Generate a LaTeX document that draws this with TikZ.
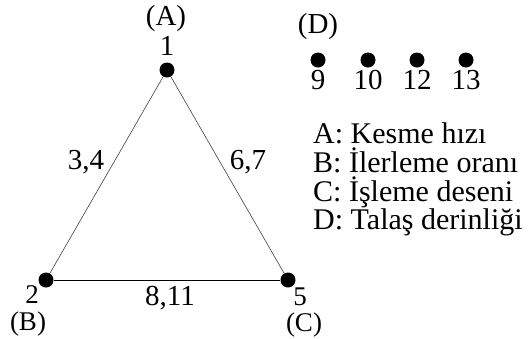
\documentclass[tikz,border=0pt]{standalone}
\usepackage{fontspec}
\setmainfont{Liberation Serif}
\usetikzlibrary{positioning}

\begin{document}
\begin{tikzpicture}[x=1pt,y=-1pt,
  dot/.style={circle,fill=black,inner sep=0pt,minimum size=15pt},
  lbl/.style={inner sep=0pt,anchor=base},
  low/.style={lbl,font=\fontsize{27}{28}\selectfont},
  key/.style={inner sep=0pt,anchor=base west,font=\fontsize{30}{30}\selectfont},
  edge/.style={draw=black!75,line width=0.6pt},
  font=\fontsize{29}{30}\selectfont]
  \useasboundingbox (0,0) rectangle (528,338);
  % Vertices
  \node[dot] (v1) at (167,70) {};
  \node[dot] (v2) at (46,280) {};
  \node[dot] (v5) at (288,280) {};
  % Triangle
  \draw[edge] (v1) -- (v2);
  \draw[edge] (v1) -- (v5);
  \draw[edge,draw=black,line width=0.9pt] (v2) -- (v5);
  % Vertex labels
  \node[lbl] (n1) at (167,55) {1};
  \node[lbl] (pA) at (166,25) {(A)};
  \node[low] (n2) at (32,303) {2};
  \node[low] (pB) at (28,330) {(B)};
  \node[low] (n5) at (300,305) {5};
  \node[low] (pC) at (304,331) {(C)};
  % Edge labels
  \node[lbl] (e12) at (86,169) {3,4};
  \node[lbl] (e15) at (248,169) {6,7};
  \node[lbl] (e25) at (170,305) {8,11};
  % Isolated levels
  \node[lbl] (pD) at (318,33) {(D)};
  \foreach \xx/\txt in {318/9,368/10,417/12,466/13}{
    \node[dot] (d\txt) at (\xx,60) {};
    \node[lbl] (t\txt) at (\xx,89) {\txt};
  }
  % Legend
  \node[key] (lA) at (313,143) {A: Kesme hızı};
  \node[key] (lB) at (313,172) {B: İlerleme oranı};
  \node[key] (lC) at (313,201) {C: İşleme deseni};
  \node[key] (lD) at (313,229) {D: Talaş derinliği};
\end{tikzpicture}
\end{document}
